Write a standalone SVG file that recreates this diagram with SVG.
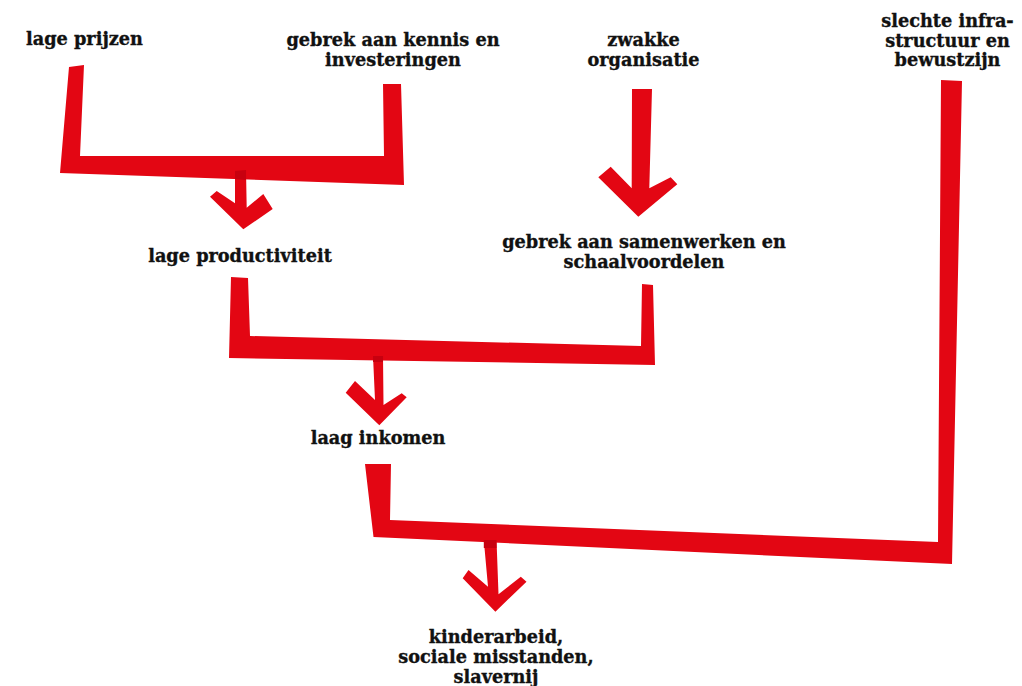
<svg xmlns="http://www.w3.org/2000/svg" width="1022" height="686" viewBox="0 0 1022 686">
<style>
.lbl{font-family:"DejaVu Serif","Liberation Serif",serif;font-weight:bold;font-size:17.7px;fill:#111;stroke:#111;stroke-width:0.35;text-anchor:middle}
.red{fill:#e30613}
.ov{fill:#c8000f}
</style>
<rect width="1022" height="686" fill="#fff"/>
<g id="connectors">
<polygon class="red" points="69,67 84,65 80,156 384,156 383,84 401,84 404,185 60,173"/>
<polygon class="red" points="235,171 246,170 246.7,207.7 263.3,194 272.7,209 243.3,229.3 210,196.7 216.7,191 235,203.3"/>
<polygon class="ov" points="235,171 246,170 246,180 235,179"/>
<polygon class="red" points="632,89 652,89 649.3,188.3 670.7,177.3 677.3,184.3 638.3,216.7 598.3,177.3 610.7,166.7 631.7,188.3"/>
<polygon class="red" points="231,277 248,278 250,336 641,346 642,284 653,285 655,365 229,358"/>
<polygon class="red" points="373,356 383,356 383.5,405 401.7,393.3 406.7,397.3 379.3,425.3 345.7,392.7 355,381 375,400"/>
<polygon class="ov" points="373,356 383,356 383,362 373,362"/>
<polygon class="red" points="365,464 391,464 390,520 938,542 941,80 962,81 952,564 373.5,537"/>
<polygon class="red" points="483.8,540 496.5,540 498.5,594.3 520.8,576.7 526.5,581.7 495.4,611.7 462.7,578.3 468.5,570 488,586.7"/>
<polygon class="ov" points="483.8,540 496.5,540 496.5,548 483.8,548"/>
</g>
<g id="n1"><text class="lbl" x="84.5" y="45">lage prijzen</text></g>
<g id="n2"><text class="lbl" x="393" y="45.5">gebrek aan kennis en</text><text class="lbl" x="393" y="65.5">investeringen</text></g>
<g id="n3"><text class="lbl" x="643.5" y="45.5">zwakke</text><text class="lbl" x="643.5" y="66">organisatie</text></g>
<g id="n4"><text class="lbl" x="947.5" y="26.5">slechte infra-</text><text class="lbl" x="947.5" y="46.5">structuur en</text><text class="lbl" x="947.5" y="66">bewustzijn</text></g>
<g id="n5"><text class="lbl" x="240" y="261.5">lage productiviteit</text></g>
<g id="n6"><text class="lbl" x="644" y="248">gebrek aan samenwerken en</text><text class="lbl" x="644" y="268">schaalvoordelen</text></g>
<g id="n7"><text class="lbl" x="378" y="443.5">laag inkomen</text></g>
<g id="n8"><text class="lbl" x="496" y="642.5">kinderarbeid,</text><text class="lbl" x="496" y="662.5">sociale misstanden,</text><text class="lbl" x="496" y="682.5">slavernij</text></g>
</svg>
